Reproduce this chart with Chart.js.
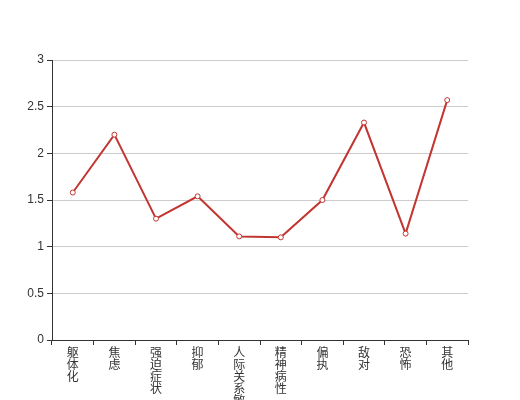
<!DOCTYPE html>
<html>
<head>
<meta charset="utf-8">
<script src="https://cdn.jsdelivr.net/npm/chart.js@4"></script>
<style>
html,body{margin:0;padding:0;background:#fff;}
#wrap{width:520px;height:400px;}
</style>
</head>
<body>
<div id="wrap"><canvas id="c" width="520" height="400"></canvas></div>
<script>
const categories = ["躯体化","焦虑","强迫症状","抑郁","人际关系敏感","精神病性","偏执","敌对","恐怖","其他"];
const scores = [1.58, 2.2, 1.3, 1.54, 1.11, 1.10, 1.5, 2.33, 1.14, 2.57];
const yTicks = [0, 0.5, 1, 1.5, 2, 2.5, 3];

const FONT = "'Liberation Sans', 'Noto Sans CJK SC', sans-serif";
const verticalLabels = categories.map(s => Array.from(s));

new Chart(document.getElementById('c'), {
  type: 'line',
  data: {
    labels: verticalLabels,
    datasets: [{
      data: scores,
      borderColor: '#c23531',
      borderWidth: 2,
      backgroundColor: '#ffffff',
      pointBackgroundColor: '#ffffff',
      pointBorderColor: '#c23531',
      pointBorderWidth: 1,
      pointRadius: 2.5,
      tension: 0,
      fill: false
    }]
  },
  options: {
    responsive: false,
    animation: false,
    devicePixelRatio: 1,
    layout: { padding: { top: 60, right: 52, left: 0, bottom: 0 } },
    plugins: { legend: { display: false }, tooltip: { enabled: false } },
    scales: {
      x: {
        type: 'category',
        offset: true,
        grid: { drawOnChartArea: false, offset: true, tickLength: 5, tickColor: '#333', drawTicks: true },
        border: { color: '#333', width: 1 },
        ticks: {
          autoSkip: false, maxRotation: 0, minRotation: 0, padding: 3,
          color: '#333', font: { family: FONT, size: 12, lineHeight: '12px' }
        },
        afterFit: s => { s.height = 60; }
      },
      y: {
        min: 0, max: 3,
        afterBuildTicks: s => { s.ticks = yTicks.map(v => ({ value: v })); },
        grid: { color: '#cccccc', tickColor: '#333', tickLength: 5 },
        border: { color: '#333', width: 1 },
        ticks: {
          padding: 3, color: '#333', font: { family: FONT, size: 12 },
          callback: v => String(v)
        },
        afterFit: s => { s.width = 52; }
      }
    }
  }
});
</script>
</body>
</html>
